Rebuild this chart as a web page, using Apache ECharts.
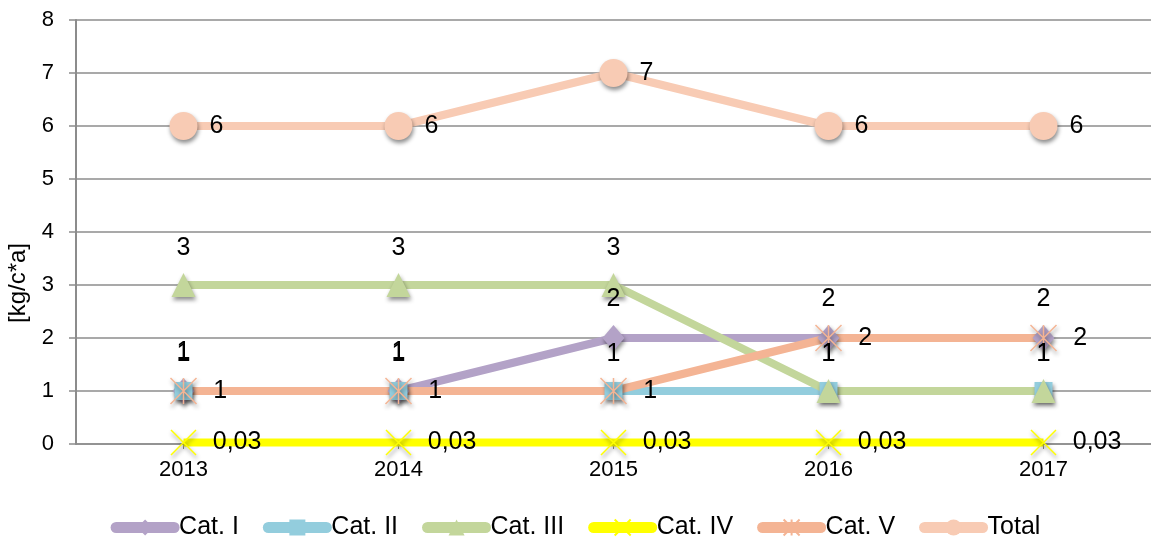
<!DOCTYPE html>
<html>
<head>
<meta charset="utf-8">
<script src="https://cdn.jsdelivr.net/npm/echarts@6/dist/echarts.min.js"></script>
<style>
  html, body { margin: 0; padding: 0; background: #fff; }
  #chart { width: 1151px; height: 537px; }
</style>
</head>
<body>
<div id="chart"></div>
<script>
// data
const years = ['2013', '2014', '2015', '2016', '2017']
const catI = [1, 1, 2, 2, 2]
const catII = [1, 1, 1, 1, 1]
const catIII = [3, 3, 3, 1, 1]
const catIV = [0.03, 0.03, 0.03, 0.03, 0.03]
const catV = [1, 1, 1, 2, 2]
const total = [6, 6, 7, 6, 6]
const yTicks = [0, 1, 2, 3, 4, 5, 6, 7, 8]

const font = 'Liberation Sans, Arial, sans-serif'
const gridGrey = '#8c8c8c'
const markShadow = { shadowColor: 'rgba(0,0,0,0.45)', shadowBlur: 4, shadowOffsetX: 1, shadowOffsetY: 3 }

const commaFmt = (p) => String(p.value).replace('.', ',')

const makeSeries = (name, data, color, symbol, symbolSize, labelPos, labelDist, extraItem) => ({
  name: name,
  type: 'line',
  data: data,
  symbol: symbol,
  symbolSize: symbolSize,
  showAllSymbol: true,
  lineStyle: { color: color, width: 8 },
  itemStyle: Object.assign({ color: color }, markShadow, extraItem || {}),
  label: {
    show: true,
    position: labelPos,
    distance: labelDist,
    color: '#000',
    fontSize: 25,
    fontFamily: font,
    formatter: commaFmt
  },
  emphasis: { disabled: true }
})

const chart = echarts.init(document.getElementById('chart'))
chart.setOption({
  animation: false,
  textStyle: { fontFamily: font },
  grid: { left: 76, right: 0, top: 20, bottom: 93 },
  legend: {
    top: 510,
    left: 'center',
    itemWidth: 58,
    itemHeight: 20,
    itemGap: 24,
    lineStyle: { width: 11, cap: 'round' },
    itemStyle: { shadowBlur: 0, shadowOffsetX: 0, shadowOffsetY: 0 },
    textStyle: { fontSize: 25, color: '#000', fontFamily: font },
    data: ['Cat. I', 'Cat. II', 'Cat. III', 'Cat. IV', 'Cat. V', 'Total']
  },
  xAxis: {
    type: 'category',
    data: years,
    axisLine: { show: true, lineStyle: { color: gridGrey, width: 1.5 } },
    axisTick: { show: true, alignWithLabel: true, length: 5, lineStyle: { color: gridGrey } },
    axisLabel: { color: '#000', fontSize: 22, margin: 15, fontFamily: font }
  },
  yAxis: {
    type: 'value',
    min: yTicks[0],
    max: yTicks[yTicks.length - 1],
    interval: 1,
    axisLine: { show: true, lineStyle: { color: gridGrey, width: 2 } },
    axisTick: { show: true, length: 7, lineStyle: { color: gridGrey, width: 1.5 } },
    axisLabel: { color: '#000', fontSize: 22, margin: 22, fontFamily: font },
    splitLine: { lineStyle: { color: gridGrey, width: 1.5 } }
  },
  graphic: [{
    type: 'text',
    x: 18,
    y: 283,
    rotation: Math.PI / 2,
    style: {
      text: '[kg/c*a]',
      fontSize: 24,
      fontFamily: font,
      fill: '#000',
      textAlign: 'center',
      textVerticalAlign: 'middle'
    }
  }],
  series: [
    makeSeries('Cat. I', catI, '#b3a2c7', 'diamond', [22, 26], 'top', 13),
    makeSeries('Cat. II', catII, '#93cddd', 'rect', 18, 'top', 15),
    makeSeries('Cat. III', catIII, '#c3d69b', 'triangle', 24, 'top', 12),
    makeSeries('Cat. IV', catIV, '#ffff00', 'path://M0,0L10,10M10,0L0,10', 25, 'right', 16,
      { borderColor: '#ffff00', borderWidth: 1.5 }),
    makeSeries('Cat. V', catV, '#f4b494', 'path://M0,0L10,10M10,0L0,10M5,0L5,10', 26, 'right', 16,
      { borderColor: '#f4b494', borderWidth: 1.5 }),
    makeSeries('Total', total, '#f8cbb4', 'circle', 28, 'right', 12)
  ]
})
</script>
</body>
</html>
